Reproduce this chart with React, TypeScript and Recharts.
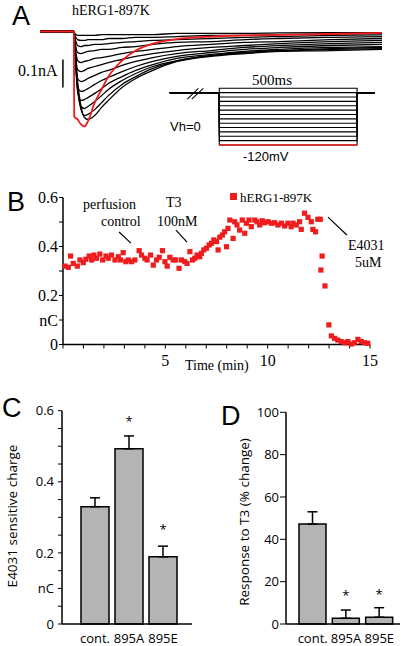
import React from 'react';
import {
  LineChart, Line, XAxis, YAxis, ReferenceLine,
  ScatterChart, Scatter, BarChart, Bar, ErrorBar, LabelList,
} from 'recharts';

// ---- panel A: current traces (pA), sampled at these times (ms) ----
const traceTimes = [0, 99, 100, 110, 120, 130, 140, 160, 180, 200, 240, 280, 330, 400, 500, 600, 700, 850, 1000];
const redTrace = [0, 0, -304, -314, -332, -339, -321, -254, -207, -161, -104, -68, -43, -27, -18, -14, -12, -9, -5];
const blackTraces = [
  [0, 0, -18, -179, -268, -307, -314, -300, -271, -246, -200, -168, -139, -107, -86, -75, -70, -64, -61],
  [0, 0, -18, -196, -279, -300, -296, -279, -254, -229, -189, -161, -132, -107, -89, -79, -71, -68, -64],
  [0, 0, -18, -207, -268, -275, -268, -250, -229, -207, -175, -150, -125, -104, -86, -75, -68, -61, -57],
  [0, 0, -18, -214, -246, -243, -236, -221, -204, -186, -161, -139, -118, -96, -82, -71, -64, -57, -54],
  [0, 0, -18, -196, -214, -211, -204, -189, -175, -164, -143, -125, -107, -89, -75, -64, -57, -50, -46],
  [0, 0, -18, -168, -179, -175, -168, -157, -146, -139, -121, -107, -93, -79, -68, -57, -50, -43, -39],
  [0, 0, -18, -136, -143, -139, -132, -125, -118, -111, -100, -89, -79, -68, -57, -50, -43, -36, -32],
  [0, 0, -14, -104, -111, -107, -104, -96, -93, -89, -79, -71, -64, -54, -46, -39, -36, -29, -25],
  [0, 0, -11, -75, -79, -75, -71, -68, -64, -64, -57, -54, -46, -39, -36, -29, -25, -21, -18],
  [0, 0, -7, -50, -54, -50, -50, -46, -46, -43, -39, -36, -32, -29, -25, -21, -18, -14, -12],
  [0, 0, -4, -29, -32, -32, -29, -29, -29, -25, -25, -21, -21, -18, -14, -14, -11, -9, -7],
  [0, 0, -4, -14, -14, -14, -14, -14, -11, -11, -11, -11, -11, -7, -7, -7, -5, -4, -4],
];

// voltage protocol (mV / ms)
const stepLevels = [10, 0, -10, -20, -30, -40, -50, -60, -70, -80, -90, -100, -110, -120];
const protocolTimes = [-180, 0, 0, 500, 500, 565];

// ---- panel B: charge vs time ----
const timeMin = [
  0.10, 0.26, 0.37, 0.50, 0.70, 0.83, 0.99, 1.12, 1.28, 1.40, 1.51, 1.64, 1.80, 1.94, 2.10, 2.21, 2.37, 2.54, 2.70, 2.81,
  2.94, 3.07, 3.19, 3.35, 3.51, 3.72, 3.84, 4.00, 4.11, 4.28, 4.41, 4.57, 4.70, 4.86, 4.98, 5.09, 5.22, 5.38, 5.51, 5.67,
  5.79, 5.95, 6.06, 6.20, 6.33, 6.44, 6.55, 6.68, 6.76, 6.88, 7.01, 7.14, 7.25, 7.37, 7.50, 7.58, 7.66, 7.79, 7.90, 7.99,
  8.06, 8.15, 8.31, 8.39, 8.50, 8.63, 8.76, 8.88, 8.96, 9.09, 9.20, 9.37, 9.48, 9.61, 9.74, 9.85, 10.02, 10.18, 10.34, 10.50,
  10.67, 10.83, 10.99, 11.15, 11.24, 11.40, 11.56, 11.64, 11.80, 11.97, 12.13, 12.21, 12.34, 12.45, 12.57, 12.60, 12.66, 12.80,
  12.99, 13.11, 13.27, 13.43, 13.59, 13.76, 13.92, 14.08, 14.24, 14.41, 14.57, 14.73, 14.89,
];
const chargeNC = [
  0.320, 0.315, 0.361, 0.331, 0.320, 0.345, 0.334, 0.348, 0.361, 0.345, 0.365, 0.352, 0.369, 0.345, 0.361, 0.352, 0.365, 0.345, 0.358, 0.345,
  0.375, 0.338, 0.345, 0.338, 0.345, 0.383, 0.365, 0.352, 0.345, 0.365, 0.324, 0.345, 0.356, 0.383, 0.338, 0.320, 0.356, 0.345, 0.345, 0.311,
  0.345, 0.338, 0.331, 0.379, 0.345, 0.352, 0.365, 0.358, 0.372, 0.386, 0.393, 0.406, 0.413, 0.427, 0.420, 0.386, 0.438, 0.447, 0.460, 0.399,
  0.474, 0.508, 0.433, 0.501, 0.488, 0.467, 0.508, 0.454, 0.495, 0.508, 0.481, 0.508, 0.501, 0.488, 0.505, 0.497, 0.501, 0.495, 0.497, 0.488,
  0.495, 0.484, 0.495, 0.481, 0.495, 0.488, 0.501, 0.470, 0.536, 0.519, 0.501, 0.470, 0.460, 0.511, 0.511, 0.304, 0.361, 0.239,
  0.080, 0.035, 0.025, 0.018, 0.012, 0.007, 0.012, 0.002, 0.007, 0.021, 0.012, 0.007, 0.005,
];
const timeTicks = [0, 1, 2, 3, 4, 5, 6, 7, 8, 9, 10, 11, 12, 13, 14, 15];
const chargeTicksB = [0, 0.1, 0.2, 0.3, 0.4, 0.5, 0.6];

// ---- panels C and D ----
const groups = ['cont.', '895A', '895E'];
const chargeMean = [0.330, 0.493, 0.189];
const chargeSem = [0.025, 0.036, 0.030];
const responseMean = [47.2, 2.7, 3.2];
const responseSem = [5.8, 3.9, 4.5];
const signif = ['', '*', '*'];
const chargeTicksC = [0, 0.05, 0.1, 0.15, 0.2, 0.25, 0.3, 0.35, 0.4, 0.45, 0.5, 0.55, 0.6];
const responseTicks = [0, 20, 40, 60, 80, 100];

const RED = '#ee1c1c';
const SERIF = '"Liberation Serif", "Times New Roman", serif';
const SANS = '"Liberation Sans", Arial, sans-serif';
const OPEN = '"Open Sans", "Noto Sans", sans-serif';

const Txt = ({ x, y, size, font, children, color = '#000' }: any) => (
  <div style={{
    position: 'absolute', left: x, top: y, fontSize: size, fontFamily: font, color,
    lineHeight: 1, whiteSpace: 'nowrap', transform: 'translateY(-50%)',
  }}>{children}</div>
);

const VTxt = ({ x, y, size, font, children }: any) => (
  <div style={{
    position: 'absolute', left: x, top: y, fontSize: size, fontFamily: font,
    lineHeight: 1, whiteSpace: 'nowrap', transform: 'translate(-50%, -50%) rotate(-90deg)',
  }}>{children}</div>
);

const Letter = ({ x, y, children }: any) => (
  <Txt x={x} y={y} size={27} font={SANS}>{children}</Txt>
);

const axisLine = { stroke: '#000', strokeWidth: 1.5 };

export default function App() {
  const traceRows = traceTimes.map((t, i) => {
    const row: any = { t, red: redTrace[i] };
    blackTraces.forEach((tr, k) => { row['b' + k] = tr[i]; });
    return row;
  });

  const chargeRows = timeMin.map((t, i) => ({ t, v: chargeNC[i] }));

  const chargeBars = groups.map((g, i) => ({ name: g, mean: chargeMean[i], err: [0, chargeSem[i]], sig: signif[i] }));
  const responseBars = groups.map((g, i) => ({ name: g, mean: responseMean[i], err: [0, responseSem[i]], sig: signif[i] }));

  const squareDot = (p: any) => (
    <rect x={p.cx - 2.6} y={p.cy - 2.6} width={5.2} height={5.2} fill={RED} />
  );

  return (
    <div style={{ position: 'absolute', left: 0, top: 0, width: 402, height: 646, background: '#fff', overflow: 'hidden' }}>
      {/* ---------- A ---------- */}
      <div style={{ position: 'absolute', left: 0, top: 0 }}>
        <LineChart width={402} height={180} data={traceRows} margin={{ top: 25.9, right: 20, bottom: 47.7, left: 40 }}>
          <XAxis dataKey="t" type="number" domain={[0, 1000]} hide />
          <YAxis type="number" domain={[-360, 20]} hide />
          {blackTraces.map((_, k) => (
            <Line key={k} dataKey={'b' + k} type="monotone" stroke="#000" strokeWidth={1.3} dot={false} isAnimationActive={false} />
          ))}
          <Line dataKey="red" type="monotone" stroke={RED} strokeWidth={1.8} dot={false} isAnimationActive={false} />
          <ReferenceLine segment={[{ x: 67, y: -100 }, { x: 67, y: -200 }]} stroke="#000" strokeWidth={1.5} />
        </LineChart>
      </div>
      <div style={{ position: 'absolute', left: 0, top: 0 }}>
        <LineChart width={402} height={180} margin={{ top: 88.3, right: 27, bottom: 35, left: 169.7 }}>
          <XAxis dataKey="t" type="number" domain={[-180, 565]} hide />
          <YAxis dataKey="v" type="number" domain={[-120, 10]} hide />
          {stepLevels.map((lv) => (
            <Line
              key={lv}
              data={protocolTimes.map((t, i) => ({ t, v: i === 2 || i === 3 ? lv : 0 }))}
              dataKey="v" type="linear" stroke="#000" strokeWidth={1.1} dot={false} isAnimationActive={false}
            />
          ))}
          <ReferenceLine segment={[{ x: 0, y: -120 }, { x: 500, y: -120 }]} stroke={RED} strokeWidth={1.6} />
          <ReferenceLine segment={[{ x: -116, y: -15 }, { x: -76, y: 10 }]} stroke="#000" strokeWidth={1.1} />
          <ReferenceLine segment={[{ x: -100, y: -15 }, { x: -58, y: 10 }]} stroke="#000" strokeWidth={1.1} />
        </LineChart>
      </div>
      <Letter x={12} y={16}>A</Letter>
      <Txt x={72} y={11} size={14} font={SERIF}>hERG1-897K</Txt>
      <Txt x={18} y={71} size={16} font={SERIF}>0.1nA</Txt>
      <Txt x={252} y={80} size={15} font={SERIF}>500ms</Txt>
      <Txt x={170} y={126} size={13} font={SANS}>Vh=0</Txt>
      <Txt x={243} y={156} size={13} font={SANS}>-120mV</Txt>

      {/* ---------- B ---------- */}
      <div style={{ position: 'absolute', left: 0, top: 180 }}>
        <ScatterChart width={402} height={200} margin={{ top: 17.5, right: 32, bottom: 0, left: 0 }}>
          <XAxis
            dataKey="t" type="number" domain={[0, 15]} ticks={timeTicks} interval={0} height={35.5}
            tickFormatter={(v: number) => (v % 5 === 0 && v > 0 ? String(v) : '')}
            axisLine={axisLine} tickLine={{ stroke: '#000' }} tickSize={4} tickMargin={6}
            tick={{ fill: '#000', fontSize: 16, fontFamily: SERIF }}
          />
          <YAxis
            dataKey="v" type="number" domain={[0, 0.6]} ticks={chargeTicksB} interval={0} width={63}
            tickFormatter={(v: number) => (v === 0.1 ? 'nC' : v === 0.3 || v === 0.5 ? '' : String(v))}
            axisLine={axisLine} tickLine={{ stroke: '#000' }} tickSize={4} tickMargin={1}
            tick={{ fill: '#000', fontSize: 16, fontFamily: SERIF }}
          />
          <ReferenceLine segment={[{ x: 2.74, y: 0.459 }, { x: 3.32, y: 0.414 }]} stroke="#000" strokeWidth={1.2} />
          <ReferenceLine segment={[{ x: 5.52, y: 0.467 }, { x: 6.06, y: 0.418 }]} stroke="#000" strokeWidth={1.2} />
          <ReferenceLine segment={[{ x: 12.95, y: 0.52 }, { x: 13.87, y: 0.447 }]} stroke="#000" strokeWidth={1.2} />
          <Scatter data={chargeRows} shape={squareDot} isAnimationActive={false} />
        </ScatterChart>
      </div>
      <Letter x={7} y={202}>B</Letter>
      <div style={{ position: 'absolute', left: 230, top: 193, width: 7, height: 7, background: RED }} />
      <Txt x={240} y={197} size={13} font={SERIF}>hERG1-897K</Txt>
      <Txt x={83} y={205} size={14} font={SERIF}>perfusion</Txt>
      <Txt x={101} y={222} size={14} font={SERIF}>control</Txt>
      <Txt x={166} y={203} size={14} font={SERIF}>T3</Txt>
      <Txt x={157} y={222} size={14} font={SERIF}>100nM</Txt>
      <Txt x={348} y={246} size={14} font={SERIF}>E4031</Txt>
      <Txt x={355} y={263} size={14} font={SERIF}>5uM</Txt>
      <Txt x={185} y={366} size={14} font={SERIF}>Time (min)</Txt>

      {/* ---------- C ---------- */}
      <div style={{ position: 'absolute', left: 0, top: 380 }}>
        <BarChart width={200} height={266} data={chargeBars} margin={{ top: 30.7, right: 8, bottom: 0, left: 0 }}>
          <XAxis
            dataKey="name" height={22} padding={{ left: 16, right: 12 }} interval={0}
            axisLine={axisLine} tickLine={false} tickSize={0} tickMargin={10}
            tick={{ fill: '#000', fontSize: 13, fontFamily: OPEN }}
          />
          <YAxis
            type="number" domain={[0, 0.6]} ticks={chargeTicksC} interval={0} width={62}
            tickFormatter={(v: number) => (v === 0.1 ? 'nC' : [0, 0.2, 0.4, 0.6].includes(v) ? String(v) : '')}
            axisLine={axisLine} tickLine={{ stroke: '#000' }} tickSize={4} tickMargin={4}
            tick={{ fill: '#000', fontSize: 13, fontFamily: OPEN }}
          />
          <Bar dataKey="mean" barSize={28} fill="#b4b4b4" stroke="#000" strokeWidth={1.5} isAnimationActive={false}>
            <ErrorBar dataKey="err" width={5} stroke="#000" strokeWidth={1.5} />
            <LabelList dataKey="sig" position="top" offset={23} style={{ fontSize: 13, fill: '#000', fontFamily: OPEN }} />
          </Bar>
        </BarChart>
      </div>
      <Letter x={2} y={408}>C</Letter>
      <VTxt x={13} y={516} size={13.5} font={OPEN}>E4031 sensitive charge</VTxt>

      {/* ---------- D ---------- */}
      <div style={{ position: 'absolute', left: 200, top: 380 }}>
        <BarChart width={202} height={266} data={responseBars} margin={{ top: 32.3, right: 2, bottom: 0, left: 0 }}>
          <XAxis
            dataKey="name" height={22} padding={{ left: 10, right: 4 }} interval={0}
            axisLine={axisLine} tickLine={false} tickSize={0} tickMargin={10}
            tick={{ fill: '#000', fontSize: 13, fontFamily: OPEN }}
          />
          <YAxis
            type="number" domain={[0, 100]} ticks={responseTicks} interval={0} width={86}
            axisLine={axisLine} tickLine={{ stroke: '#000' }} tickSize={6} tickMargin={1}
            tick={{ fill: '#000', fontSize: 13, fontFamily: OPEN }}
          />
          <Bar dataKey="mean" barSize={27} fill="#b4b4b4" stroke="#000" strokeWidth={1.5} isAnimationActive={false}>
            <ErrorBar dataKey="err" width={5} stroke="#000" strokeWidth={1.5} />
            <LabelList dataKey="sig" position="top" offset={18} style={{ fontSize: 13, fill: '#000', fontFamily: OPEN }} />
          </Bar>
        </BarChart>
      </div>
      <Letter x={221} y={416}>D</Letter>
      <VTxt x={245} y={522} size={13.5} font={OPEN}>Response to T3 (% change)</VTxt>
    </div>
  );
}
